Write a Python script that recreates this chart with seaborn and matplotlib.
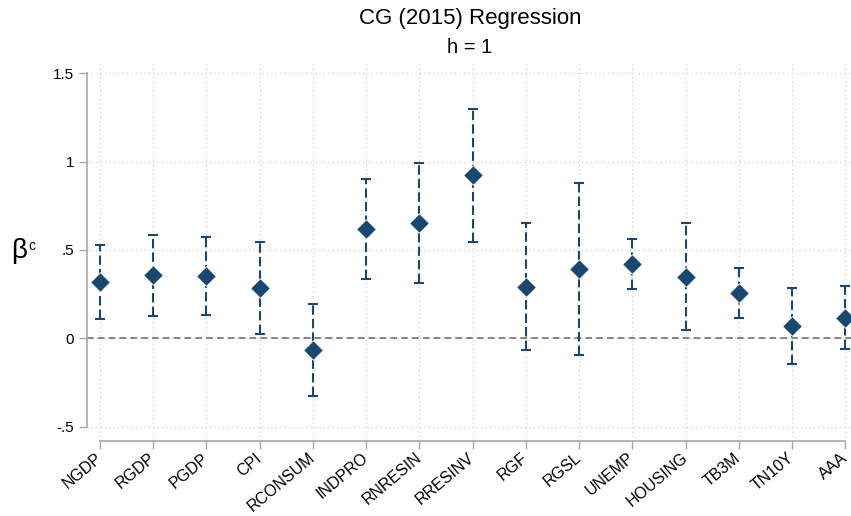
import numpy as np
import pandas as pd
import matplotlib
matplotlib.use("Agg")
import matplotlib.pyplot as plt
import seaborn as sns

categories = ["NGDP", "RGDP", "PGDP", "CPI", "RCONSUM", "INDPRO", "RNRESIN",
              "RRESINV", "RGF", "RGSL", "UNEMP", "HOUSING", "TB3M", "TN10Y", "AAA"]
beta = [0.320, 0.357, 0.353, 0.283, -0.066, 0.617, 0.651,
        0.923, 0.292, 0.391, 0.421, 0.345, 0.258, 0.070, 0.117]
ci_upper = [0.530, 0.583, 0.574, 0.544, 0.193, 0.900, 0.994,
            1.298, 0.655, 0.878, 0.564, 0.651, 0.396, 0.283, 0.296]
ci_lower = [0.110, 0.126, 0.132, 0.026, -0.325, 0.334, 0.311,
            0.547, -0.066, -0.095, 0.277, 0.047, 0.117, -0.146, -0.061]
yticks = [-0.5, 0, 0.5, 1, 1.5]
ytick_labels = ["-.5", "0", ".5", "1", "1.5"]

sns.set_theme(style="white")
plt.rcParams["font.family"] = ["Liberation Sans", "DejaVu Sans"]
plt.rcParams["text.color"] = "black"

navy = "#1a476f"
grid_c = "#cfcfcf"
spine_c = "#a8a8a8"

df = pd.DataFrame({"cat": categories, "pos": np.arange(len(categories)),
                   "beta": beta, "lo": ci_lower, "hi": ci_upper})

W, H = 851, 516
fig = plt.figure(figsize=(W / 100, H / 100), dpi=100)
left, right, bottom, top = 86.7, 850.6, 440.7, 63
ax = fig.add_axes([left / W, (H - bottom) / H, (right - left) / W, (bottom - top) / H])

# grid
for yv in yticks:
    ax.axhline(yv, color=grid_c, lw=0.9, ls=(0, (1, 2.5)), zorder=0)
for xv in df["pos"]:
    ax.axvline(xv, color=grid_c, lw=0.9, ls=(0, (1, 2.5)), zorder=0)

ax.axhline(0, color="#707070", lw=1.2, ls=(0, (4, 2.5)), zorder=1)

# CIs
yerr = np.vstack([df["beta"] - df["lo"], df["hi"] - df["beta"]])
eb = ax.errorbar(df["pos"], df["beta"], yerr=yerr, fmt="none", ecolor=navy,
                 elinewidth=1.5, capsize=3.5, capthick=1.5, zorder=2)
for lc in eb[2]:
    lc.set_linestyle((0, (4.5, 2)))

sns.scatterplot(data=df, x="pos", y="beta", marker="D", s=100, color=navy,
                edgecolor="white", linewidth=0.6, ax=ax, zorder=3)

ax.set_xlim(-0.25, 14.1)
ax.set_ylim(-0.58, 1.559)
ax.set_xticks(df["pos"])
ax.set_xticklabels(categories, rotation=40, ha="right", va="center",
                   rotation_mode="anchor", fontsize=11.5)
ax.set_yticks(yticks)
ax.set_yticklabels(ytick_labels, fontsize=11)
ax.tick_params(axis="both", direction="out", length=5.5, width=1, color=spine_c,
               labelcolor="black", left=True, bottom=True)
ax.tick_params(axis="x", pad=5.5)
ax.tick_params(axis="y", pad=3.5)
ax.set_xlabel("")
ax.set_ylabel("")

for s in ["top", "right"]:
    ax.spines[s].set_visible(False)
ax.spines["left"].set_bounds(-0.5, 1.5)
ax.spines["bottom"].set_bounds(0, 14)
for s in ["left", "bottom"]:
    ax.spines[s].set_color(spine_c)
    ax.spines[s].set_linewidth(1.2)

fig.text(470.5 / W, 1 - 24 / H, "CG (2015) Regression", ha="center",
         va="baseline", fontsize=16, color="black")
fig.text(470 / W, 1 - 53 / H, "h = 1", ha="center", va="baseline", fontsize=14.5,
         color="black")
fig.text(19 / W, 1 - 258 / H, "β", ha="center", va="baseline", fontsize=20,
         color="black")
fig.text(28 / W, 1 - 250 / H, "c", ha="left", va="baseline", fontsize=10,
         color="black")

fig.savefig("out.png", dpi=100, facecolor="white")
